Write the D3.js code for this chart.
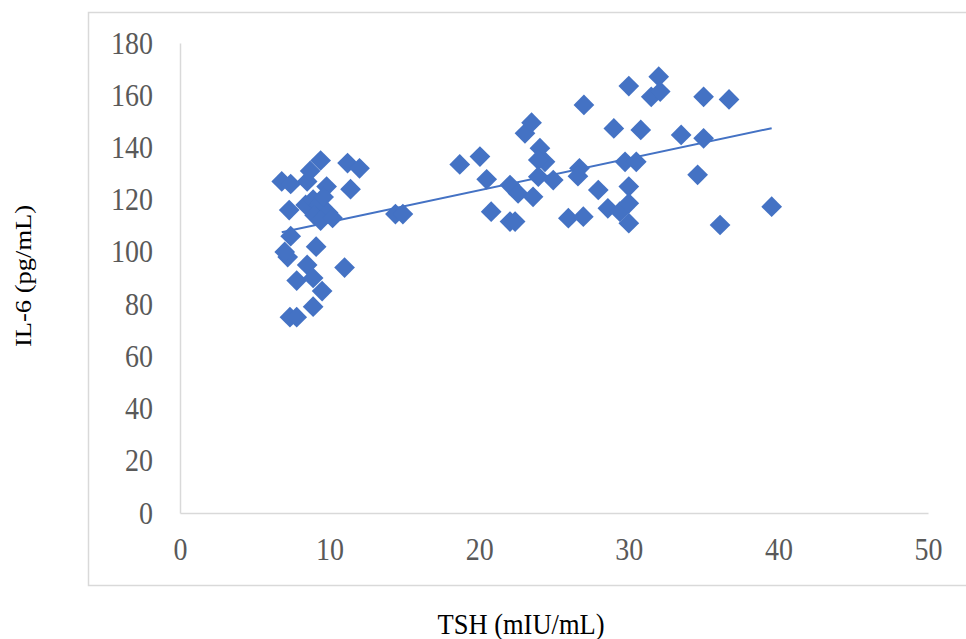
<!doctype html>
<html>
<head>
<meta charset="utf-8">
<title>TSH vs IL-6</title>
<style>
  body { margin:0; background:#fff; }
  svg { display:block; }
  .axis path { stroke:#d9d9d9; stroke-width:1.5px; }
  .axis line { display:none; }
  .axis text { font-family:"Liberation Serif", "Times New Roman", serif; font-size:28px; fill:#595959; }
  .title { font-family:"Liberation Serif", "Times New Roman", serif; fill:#000; }
</style>
<script src="https://cdn.jsdelivr.net/npm/d3@7"></script>
</head>
<body>
<svg id="chart" width="966" height="639"></svg>
<script>

// data
var tsh = [6.8, 7.4, 8.5, 8.7, 9.4, 11.2, 12.0, 11.4, 9.8, 7.3,
           8.4, 8.9, 9.3, 9.6, 9.0, 9.9, 9.4, 10.2, 7.4, 9.1,
           7.2, 7.0, 8.5, 11.0, 7.8, 8.9, 9.5, 8.9, 7.35, 7.8,
           14.4, 14.9, 18.7, 20.05, 20.5, 20.8, 22.06, 22.6, 22.06, 22.4,
           23.6, 23.06, 23.5, 24.06, 24.4, 23.95, 23.95, 24.95, 25.96, 26.96,
           26.7, 26.6, 27.0, 27.96, 28.6, 29.0, 29.4, 29.75, 30.0, 30.0,
           30.0, 30.0, 30.5, 30.8, 31.5, 32.0, 32.1, 33.5, 34.6, 35.0,
           35.0, 36.1, 36.7, 39.55]
var il6 = [127, 126, 127, 131, 135, 134, 132, 124, 125, 116,
           118, 120, 118, 121, 114, 115, 112, 113, 106, 102,
           98, 100, 95, 94, 89, 90, 85, 79, 75, 75,
           114.5, 114.5, 133.5, 136.5, 127.8, 115.4, 125.6, 122.4, 111.6, 111.6,
           121.1, 145.4, 149.5, 139.7, 134.5, 135.2, 128.8, 127.5, 112.9, 113.5,
           132, 129, 156.3, 123.7, 116.7, 147.3, 115.4, 134.5, 163.5, 125,
           118.6, 111, 134.5, 146.7, 159.4, 167.1, 161.4, 144.8, 129.5, 143.5,
           159.4, 110.3, 158.4, 117.3]
var xTicks = [0, 10, 20, 30, 40, 50]
var yTicks = [0, 20, 40, 60, 80, 100, 120, 140, 160, 180]

var svg = d3.select("#chart")

// outer frame
svg.append("rect")
   .attr("x", 88.5).attr("y", 12.5)
   .attr("width", 890).attr("height", 573)
   .attr("fill", "none").attr("stroke", "#d9d9d9").attr("stroke-width", 1.5)

var x = d3.scaleLinear().domain([0, 50]).range([180, 928])
var y = d3.scaleLinear().domain([0, 180]).range([513, 43])

// x axis
var gx = svg.append("g")
   .attr("class", "axis")
   .attr("transform", "translate(0,513)")
   .call(d3.axisBottom(x).tickValues(xTicks).tickSize(0).tickSizeOuter(0))
gx.selectAll("text")
  .attr("y", 0).attr("dy", null)
  .attr("transform", "translate(0,47) scale(1,1.13)")

// y axis
var gy = svg.append("g")
   .attr("class", "axis")
   .attr("transform", "translate(180,0)")
   .call(d3.axisLeft(y).tickValues(yTicks).tickSize(0).tickSizeOuter(0))
gy.selectAll("text")
  .attr("x", 0).attr("dy", null)
  .attr("transform", "translate(-27,10) scale(1,1.13)")

// linear trendline from least squares
var n = tsh.length
var mx = d3.mean(tsh), my = d3.mean(il6)
var sxy = 0, sxx = 0
for (var i = 0; i < n; i++) {
  sxy += (tsh[i] - mx) * (il6[i] - my)
  sxx += (tsh[i] - mx) * (tsh[i] - mx)
}
var slope = sxy / sxx
var icpt = my - slope * mx
var ext = d3.extent(tsh)

svg.append("line")
   .attr("x1", x(ext[0])).attr("y1", y(icpt + slope * ext[0]))
   .attr("x2", x(ext[1])).attr("y2", y(icpt + slope * ext[1]))
   .attr("stroke", "#4472c4").attr("stroke-width", 2)

// points
var pts = d3.range(n)
var diamond = d3.symbol().type(d3.symbolSquare).size(215)
svg.append("g").selectAll("path")
   .data(pts)
   .enter()
   .append("path")
   .attr("d", diamond)
   .attr("transform", function(d){ return "translate(" + x(tsh[d]) + "," + y(il6[d]) + ") rotate(45)" })
   .attr("fill", "#4472c4")

// axis titles
svg.append("text")
   .attr("class", "title")
   .attr("text-anchor", "middle")
   .attr("transform", "translate(521,634) scale(1,1.13)")
   .style("font-size", "26.5px")
   .text("TSH (mIU/mL)")

svg.append("text")
   .attr("class", "title")
   .attr("text-anchor", "middle")
   .attr("transform", "translate(31,276) rotate(-90) scale(1.13,1)")
   .style("font-size", "23.5px")
   .text("IL-6 (pg/mL)")

</script>
</body>
</html>
